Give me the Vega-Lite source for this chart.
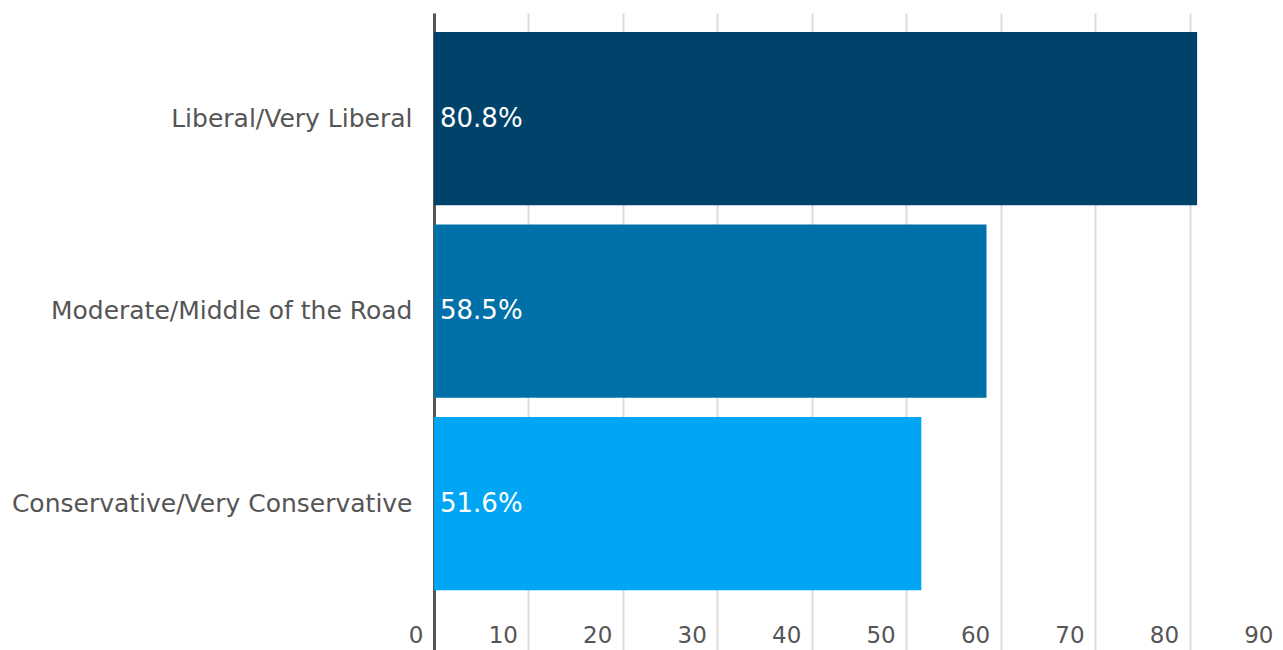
{
  "$schema": "https://vega.github.io/schema/vega-lite/v6.json",
  "autosize": {"type": "none"},
  "padding": {"left": 434, "top": 13, "right": 0, "bottom": 0},
  "width": 850,
  "height": 637,
  "background": "white",
  "data": {
    "values": [
      {"group": "Liberal/Very Liberal", "value": 80.8, "label": "80.8%"},
      {"group": "Moderate/Middle of the Road", "value": 58.5, "label": "58.5%"},
      {"group": "Conservative/Very Conservative", "value": 51.6, "label": "51.6%"}
    ]
  },
  "config": {
    "view": {"stroke": null},
    "font": "DejaVu Sans"
  },
  "encoding": {
    "y": {
      "field": "group",
      "type": "nominal",
      "sort": null,
      "title": null,
      "scale": {"paddingInner": 0.1, "paddingOuter": 0.2045, "align": 0.241},
      "axis": {
        "domainColor": "#555555",
        "domainWidth": 3,
        "ticks": false,
        "labelPadding": 22,
        "labelFontSize": 25,
        "labelColor": "#555555",
        "labelFont": "DejaVu Sans",
        "labelLimit": 500
      }
    }
  },
  "layer": [
    {
      "mark": {"type": "bar"},
      "encoding": {
        "x": {
          "field": "value",
          "type": "quantitative",
          "title": null,
          "scale": {"domain": [0, 90], "nice": false},
          "axis": {
            "orient": "bottom",
            "values": [0, 10, 20, 30, 40, 50, 60, 70, 80, 90],
            "domain": false,
            "ticks": false,
            "tickSize": 0,
            "grid": true,
            "gridColor": "#dcdcdc",
            "gridWidth": 2,
            "labelAlign": "right",
            "labelOffset": -11,
            "labelPadding": -15,
            "labelBaseline": "middle",
            "labelFontSize": 23,
            "labelColor": "#555555",
            "labelFont": "DejaVu Sans"
          }
        },
        "color": {
          "field": "group",
          "type": "nominal",
          "legend": null,
          "scale": {
            "domain": ["Liberal/Very Liberal", "Moderate/Middle of the Road", "Conservative/Very Conservative"],
            "range": ["#00436a", "#0070a8", "#00a6f4"]
          }
        }
      }
    },
    {
      "mark": {"type": "text", "align": "left", "baseline": "middle", "dx": 6, "color": "white", "fontSize": 26, "font": "DejaVu Sans"},
      "encoding": {
        "x": {"datum": 0, "type": "quantitative"},
        "text": {"field": "label"}
      }
    }
  ]
}
